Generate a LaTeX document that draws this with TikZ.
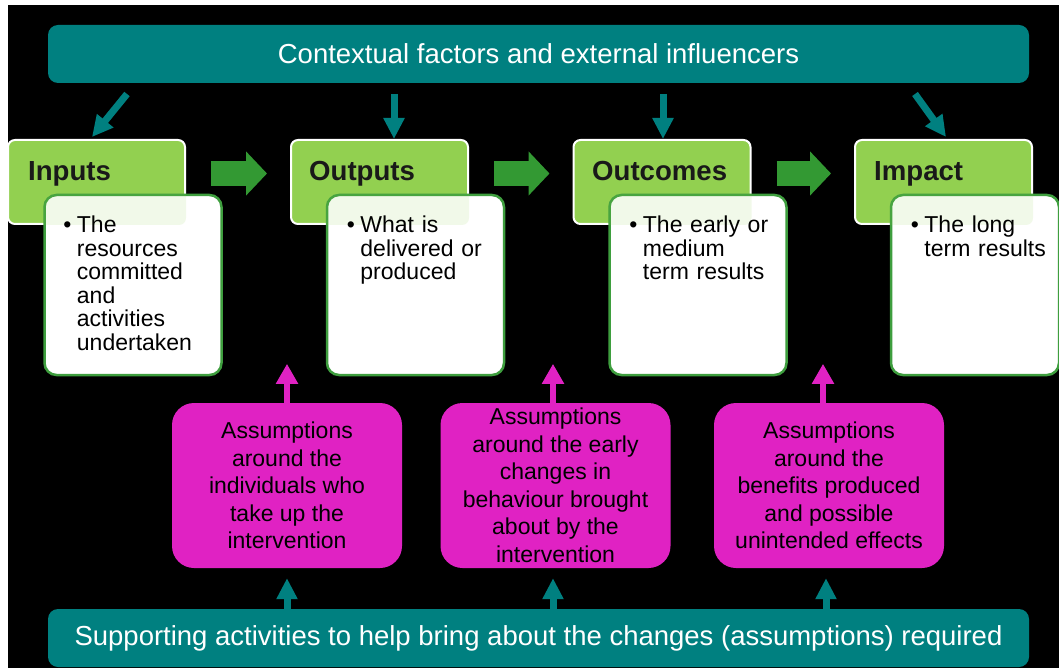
\documentclass[tikz,border=0pt]{standalone}
\usepackage{fontspec}
\setmainfont{Liberation Sans}
\usetikzlibrary{arrows.meta}
\definecolor{tealc}{HTML}{008080}
\definecolor{lgreen}{HTML}{92D050}
\definecolor{dgreen}{HTML}{339933}
\definecolor{bgreen}{HTML}{3E9E3E}
\definecolor{magc}{HTML}{E022C3}
\newcommand{\ind}{\hspace*{13.5pt}}
\newcommand{\bul}{\makebox[13.5pt][l]{\textbullet}}
\newcommand{\tintcard}[2]{%
  \begin{scope}
    \clip[rounded corners=12pt] (#1.south west) rectangle (#1.north east);
    \fill[lgreen, fill opacity=0.12, rounded corners=7pt]
      (#2.south west) rectangle (#2.north east);
  \end{scope}}
\begin{document}
\begin{tikzpicture}[x=1pt,y=-1pt,
  bar/.style={fill=tealc, rounded corners=10pt, text=white,
    font=\fontsize{27.5}{32}\selectfont, minimum width=981pt,
    minimum height=58pt, inner sep=0pt},
  headbox/.style={fill=lgreen, draw=white, line width=2pt, rounded corners=7pt,
    minimum width=177pt, minimum height=84pt, inner sep=0pt},
  headtext/.style={font=\fontsize{27.6}{32}\selectfont\bfseries,
    text=black!90, anchor=base west, inner sep=0pt},
  card/.style={fill=white, draw=bgreen, line width=2.5pt,
    rounded corners=12pt, minimum width=177pt, minimum height=180pt,
    inner sep=0pt},
  cardtext/.style={font=\fontsize{23}{23.5}\selectfont, text=black,
    text width=165pt, align=left, anchor=north west, inner sep=0pt},
  magbox/.style={fill=magc, rounded corners=22pt, minimum width=230pt,
    minimum height=165pt, inner sep=0pt, text=black, align=center,
    font=\fontsize{23}{27.5}\selectfont},
  tealarr/.style={draw=tealc, line width=7pt,
    -{Triangle[width=20pt,length=21pt]}},
  magarr/.style={draw=magc, line width=6pt,
    -{Triangle[width=21pt,length=20pt]}},
  blockarr/.style={draw=dgreen, line width=25pt,
    -{Triangle[width=43pt,length=21pt]}, shorten <=25pt, shorten >=23pt}
]
\useasboundingbox (0,0) rectangle (1059,668);
\clip (0,0) rectangle (1059,668);
\fill[white] (0,0) rectangle (1059,668);
\fill[black] (8,5) rectangle (1059,668);

% bars
\node[bar] (topbar) at (538.5,54) {Contextual factors and external influencers};
\node[bar] (botbar) at (538.5,638) {Supporting activities to help bring about the changes (assumptions) required};

% header boxes
\node[headbox] (h1) at (96.5,182) {};
\node[headbox] (h2) at (379.5,182) {};
\node[headbox] (h3) at (662,182) {};
\node[headbox] (h4) at (943.5,182) {};
\node[headtext] (h1t) at (28,181) {Inputs};
\node[headtext] (h2t) at (309,181) {Outputs};
\node[headtext] (h3t) at (592,181) {Outcomes};
\node[headtext] (h4t) at (874,181) {Impact};

% cards
\node[card] (c1) at (133,285) {};
\node[card] (c2) at (415.5,285) {};
\node[card] (c3) at (698,285) {};
\node[card, minimum width=168pt] (c4) at (975,285) {};
\tintcard{c1}{h1}
\tintcard{c2}{h2}
\tintcard{c3}{h3}
\tintcard{c4}{h4}
\node[cardtext] (c1t) at ([xshift=20pt,yshift=-22pt]c1.north west)
  {\bul The\\\ind resources\\\ind committed\\\ind and\\\ind activities\\\ind undertaken};
\node[cardtext] (c2t) at ([xshift=21pt,yshift=-22pt]c2.north west)
  {\bul What is\\\ind delivered or\\\ind produced};
\node[cardtext] (c3t) at ([xshift=21pt,yshift=-22pt]c3.north west)
  {\bul The early or\\\ind medium\\\ind term results};
\node[cardtext] (c4t) at ([xshift=21pt,yshift=-22pt]c4.north west)
  {\bul The long\\\ind term results};

% block arrows
\draw[blockarr] ([yshift=8.5pt]h1.east) -- ([yshift=8.5pt]h2.west);
\draw[blockarr] ([yshift=8.5pt]h2.east) -- ([yshift=8.5pt]h3.west);
\draw[blockarr] ([yshift=8.5pt]h3.east) -- ([yshift=8.5pt]h4.west);

% teal arrows from the top bar
\coordinate (s1) at (127,94);
\coordinate (s2) at (394,94);
\coordinate (s3) at (663,94);
\coordinate (s4) at (915,94);
\draw[tealarr] (s1) -- ([xshift=-4.5pt,yshift=2pt]h1.north);
\draw[tealarr] (s2) -- (h2.north -| s2);
\draw[tealarr] (s3) -- (h3.north -| s3);
\draw[tealarr] (s4) -- ([xshift=2.5pt,yshift=2pt]h4.north);

% assumption boxes
\node[magbox] (m1) at (287,485.5)
  {Assumptions\\around the\\individuals who\\take up the\\intervention};
\node[magbox] (m2) at (555.5,485.5)
  {Assumptions\\around the early\\changes in\\behaviour brought\\about by the\\intervention};
\node[magbox] (m3) at (829,485.5)
  {Assumptions\\around the\\benefits produced\\and possible\\unintended effects};

% magenta arrows up
\draw[magarr] (m1.north) -- ++(0,-39);
\draw[magarr] ([xshift=-2.5pt]m2.north) -- ++(0,-39);
\draw[magarr] ([xshift=-6pt]m3.north) -- ++(0,-39);

% teal arrows from the bottom bar
\coordinate (b1) at ([yshift=-10pt]m1.south);
\coordinate (b2) at ([xshift=-2.5pt,yshift=-10pt]m2.south);
\coordinate (b3) at ([xshift=-3pt,yshift=-10pt]m3.south);
\draw[tealarr] (botbar.north -| b1) -- (b1);
\draw[tealarr] (botbar.north -| b2) -- (b2);
\draw[tealarr] (botbar.north -| b3) -- (b3);
\end{tikzpicture}
\end{document}
